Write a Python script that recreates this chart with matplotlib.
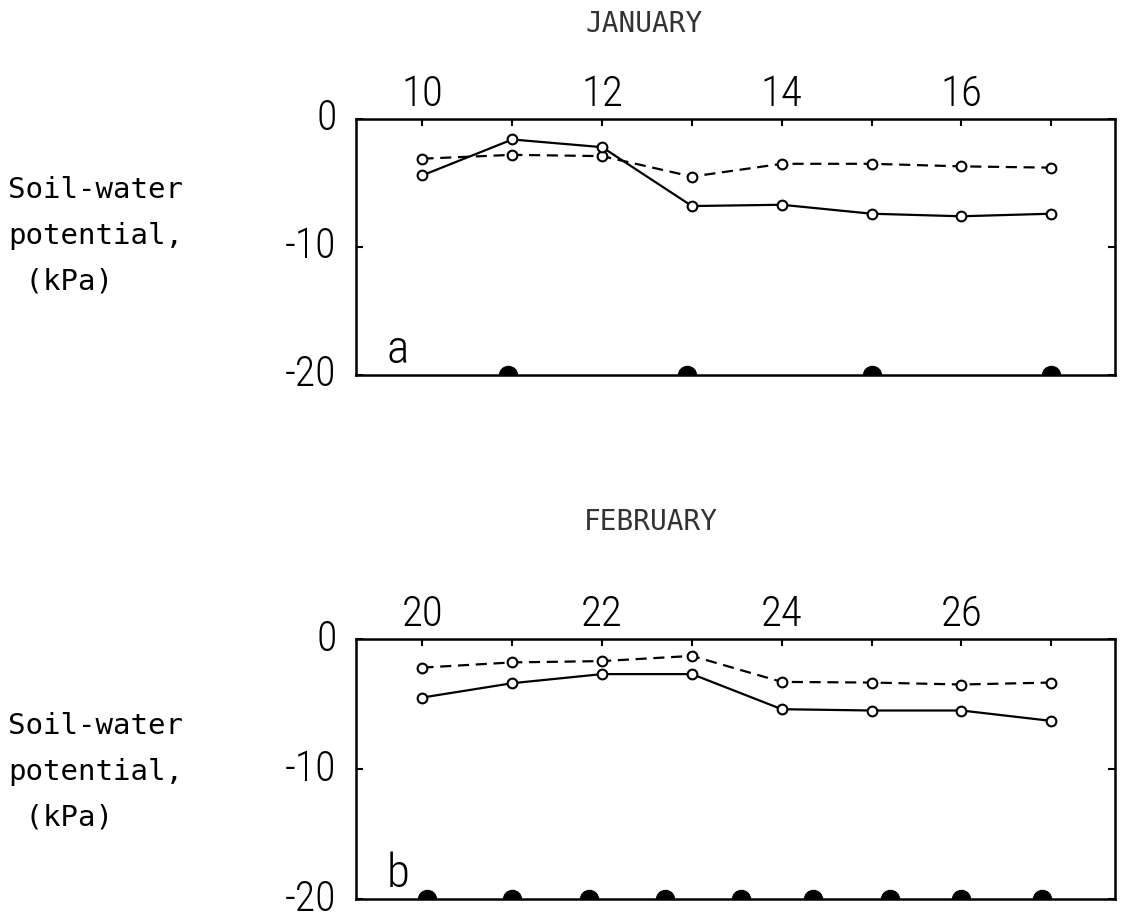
import matplotlib
matplotlib.use("Agg")
import matplotlib.pyplot as plt

# Soil-water potential (kPa) at the two depths, January run (panel a)
jan_days = [10, 11, 12, 13, 14, 15, 16, 17]
jan_solid = [-4.4, -1.6, -2.2, -6.8, -6.7, -7.4, -7.6, -7.4]
jan_dashed = [-3.1, -2.8, -2.9, -4.5, -3.5, -3.5, -3.7, -3.8]
jan_events = [10.95, 12.95, 15.0, 17.0]
jan_tick_labels = ["10", "", "12", "", "14", "", "16", ""]

# February run (panel b)
feb_days = [20, 21, 22, 23, 24, 25, 26, 27]
feb_solid = [-4.5, -3.4, -2.7, -2.7, -5.4, -5.5, -5.5, -6.3]
feb_dashed = [-2.2, -1.8, -1.7, -1.3, -3.3, -3.35, -3.5, -3.35]
feb_events = [20.05, 21.0, 21.85, 22.7, 23.55, 24.35, 25.2, 26.0, 26.9]
feb_tick_labels = ["20", "", "22", "", "24", "", "26", ""]

y_ticks = [0, -10, -20]
y_tick_labels = ["0", "-10", "-20"]

W, H = 1124, 922
NARROW = ["Roboto Condensed", "Liberation Sans"]
MONO = ["DejaVu Sans Mono"]

fig = plt.figure(figsize=(W / 100, H / 100), dpi=100)


def px_text(x, y, s, **kw):
    fig.text(x / W, 1 - y / H, s, **kw)


def panel(rect, days, solid, dashed, events, tick_labels, letter):
    ax = fig.add_axes(rect)
    ax.plot(days, dashed, color="black", lw=1.6, ls=(0, (5, 3)),
            marker="o", ms=7, mfc="white", mec="black", mew=1.5, zorder=3)
    ax.plot(days, solid, color="black", lw=1.6,
            marker="o", ms=7, mfc="white", mec="black", mew=1.5, zorder=4)
    # filled half-discs sitting on the bottom axis
    ax.plot(events, [-20] * len(events), "o", color="black", ms=13,
            clip_on=True, zorder=2)

    ax.set_xlim(days[0] - 0.74, days[-1] + 0.71)
    ax.set_ylim(-20, 0)
    ax.xaxis.tick_top()
    ax.set_xticks(days)
    ax.set_xticklabels(tick_labels, fontfamily=NARROW, fontsize=31,
                       fontweight="light")
    ax.set_yticks(y_ticks)
    ax.set_yticklabels(y_tick_labels, fontfamily=NARROW, fontsize=30,
                       fontweight="light", va="center")
    ax.tick_params(axis="x", direction="in", length=5, width=1.5, pad=3)
    ax.tick_params(axis="y", direction="in", length=5, width=1.5, pad=14,
                   right=True)
    for sp in ax.spines.values():
        sp.set_linewidth(1.8)
    ax.text(0.04, 0.01, letter, transform=ax.transAxes, fontfamily=NARROW,
            fontsize=34, fontweight="light", ha="left", va="bottom")
    return ax


panel([356 / W, 1 - 375 / H, 759 / W, 256 / H], jan_days, jan_solid,
      jan_dashed, jan_events, jan_tick_labels, "a")
panel([356 / W, 1 - 899 / H, 759 / W, 260 / H], feb_days, feb_solid,
      feb_dashed, feb_events, feb_tick_labels, "b")

ylabel = "Soil-water\npotential,\n (kPa)"
px_text(8, 236, ylabel, fontfamily=MONO, fontsize=21, ha="left",
        va="center", linespacing=1.8)
px_text(8, 772, ylabel, fontfamily=MONO, fontsize=21, ha="left",
        va="center", linespacing=1.8)

px_text(644, 24, "JANUARY", fontfamily=MONO, fontsize=20, ha="center",
        va="center", color="#333333")
px_text(651, 522, "FEBRUARY", fontfamily=MONO, fontsize=20, ha="center",
        va="center", color="#333333")

fig.savefig("out.png", dpi=100)
